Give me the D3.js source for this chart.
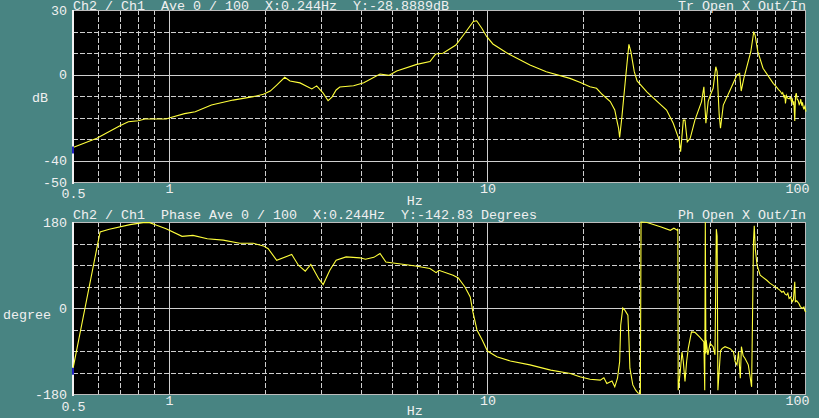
<!DOCTYPE html>
<html>
<head>
<meta charset="utf-8">
<script src="https://cdn.jsdelivr.net/npm/d3@7"></script>
<style>
  html, body { margin: 0; padding: 0; background: #488482; }
  svg { display: block; }
  text { font-family: "Liberation Mono", "DejaVu Sans Mono", monospace; font-size: 13.33px; fill: #f0f0f0; }
</style>
</head>
<body>
<svg id="chart" width="819" height="418"></svg>
<script>
// ---- data ----
// transfer function magnitude (Hz, dB)
const magFreq = [0.5, 0.594, 0.702, 0.746, 0.801, 0.841, 0.98, 1.02, 1.12, 1.21, 1.36, 1.59, 1.84, 1.98, 2.08,
  2.18, 2.31, 2.4, 2.58, 2.81, 2.91, 3.05, 3.16, 3.25, 3.35, 3.44, 3.8, 4.09, 4.6, 4.9, 5.19, 6.0, 6.6, 6.88,
  7.25, 7.96, 8.5, 9.03, 9.25, 9.6, 9.94, 10.4, 11.48, 13.6, 15.3, 18.15, 19.5, 20.98, 22.0, 22.9, 24.3, 25.1,
  25.6, 25.8, 26.0, 26.4, 27.2, 27.8, 28.2, 28.9, 29.5, 31.7, 36.5, 38.3, 40.0, 40.4, 41.2, 41.7, 42.4, 43.3,
  44.8, 47.0, 47.8, 48.5, 49.3, 50.1, 51.1, 52.1, 52.6, 53.4, 53.9, 55.0, 57.8, 60.7, 61.9, 62.6, 63.8, 67.1,
  68.5, 69.2, 70.6, 73.3, 78.9, 80.5, 82, 82.9, 84, 84.5, 85.3, 85.8, 86.2, 86.8, 87.5, 88.5, 89.3, 90, 90.6,
  91.1, 91.6, 92.2, 92.7, 93.2, 93.8, 94.5, 95.2, 95.7, 96.3, 97, 97.5, 98.1, 98.5, 99.2, 100];
const magDb = [-34, -29.7, -23.8, -22, -21.5, -20.7, -20.7, -19.9, -18.2, -17.3, -14.2, -11.9, -10.3, -9.2, -7.7,
  -4.9, -1.3, -3, -3.9, -6.7, -5.3, -8.7, -12.2, -10.5, -7.2, -5.8, -5.2, -3.8, 0.2, -0.4, 1.6, 4.7, 6.0, 9.5,
  9.9, 13.7, 19.3, 24.7, 25, 21.5, 17.7, 14.2, 10.1, 4.4, 1.3, -1.8, -3.6, -5.7, -6.4, -9.2, -12.6, -16.5,
  -22.7, -25, -29.3, -20.4, -0.2, 14.0, 10.6, 1.3, -3, -8.2, -16.5, -22.7, -30.5, -35.9, -21.2, -21.2, -31.3, -29.7,
  -21.2, -12.6, -5.7, -22.7, -12.6, -9.5, -6.4, 3.6, 1.3, -18.8, -25.0, -14.2, -7.2, -0.2, 0.5, -7.7, -1.8, 10.6,
  19.6, 18.4, 10.6, 2.9, -4.1, -5.5, -7, -7.7, -9, -8.5, -10.5, -9.5, -13.5, -9.8, -11, -11.3, -10.5, -12.5, -11.5,
  -14.2, -12.5, -21.6, -10, -8.7, -11.5, -12, -14, -13.4, -11.5, -14.5, -13, -15.5, -16, -14.8, -17.3];

// phase (Hz, degrees)
const phFreq = [0.5, 0.608, 0.65, 0.755, 0.83, 0.87, 0.915, 0.98, 1.1, 1.19, 1.32, 1.48, 1.67, 1.84, 1.98, 2.05,
  2.18, 2.43, 2.55, 2.68, 2.79, 2.95, 3.05, 3.2, 3.35, 3.6, 3.98, 4.14, 4.4, 4.6, 4.8, 5.2, 5.95, 6.6, 6.9, 7.04,
  7.8, 8.1, 8.5, 8.83, 9.0, 9.27, 9.63, 10.0, 10.7, 11.8, 13.6, 15.8, 18.2, 19.5, 21, 22.6, 23.2, 23.7, 24.6,
  25.1, 25.6, 26.0, 26.2, 26.6, 27.0, 27.6, 27.8, 28.0, 28.6, 29.2, 29.7, 30.2, 30.35, 31.7, 35.1, 37.5, 38.5,
  39.4, 39.6, 39.7, 40.3, 40.8, 41.2, 41.7, 42.2, 42.7, 43.7, 44.8, 46.4, 47.8, 48.1, 48.3, 48.5, 48.6, 49.2,
  50, 51.1, 51.8, 52.3, 52.6, 52.9, 53.9, 54.5, 55.7, 57.8, 59.2, 59.9, 60.7, 61.4, 62.2, 62.7, 63.5, 64.3,
  65.9, 67.5, 68.0, 68.4, 68.8, 69.3, 70.2, 71.8, 75.3, 77, 79.3, 81, 82.9, 84, 85, 86, 87, 87.7, 88.5, 89.5,
  90.5, 91.3, 92.2, 92.6, 93.5, 95, 96, 97.3, 98.5, 99.2, 100];
const phDeg = [-127, 159, 164.7, 174.5, 178.6, 178.6, 173, 166, 150, 152, 145, 142, 135.5, 135.5, 130, 124,
  100, 112, 89.5, 77, 91, 61.7, 49, 79, 100, 107, 105, 102, 106, 114, 96.4, 93, 88, 82.6, 74, 79,
  68.6, 63, 44, 23, -8, -46, -67, -90, -102, -111, -119, -130, -137, -144, -149, -151, -146, -158, -153,
  -165, -147, -112.5, -36, 0, -4.5, -15, -64, -126, -161, -172, -178, -179, 180, 179, 169.6, 162.6, 167,
  163, 166, -172, -133, -92, -112.5, -154, -112, -84.5, -50, -51, -61, -71, -172, 180, -95, -67, -98,
  -74, -81, -98, 165, 150, -172, -90, -85, -81, -85, -92, -112, -119, -92, -147, -81, -100, -105,
  -119, -165, -1, 138, 172, 124, 89.5, 68.6, 58, 52, 46.3, 42, 37, 33, 35, 29, 27, 31, 20, 23,
  13, 17, 55, 13, 15, 9.5, 3, -1, 2, -6, -8];

// tick labels
const xTickVals = [0.5, 1, 10, 100];
const magTickVals = [30, 0, -40, -50];
const phTickVals = [180, 0, -180];
const magGrid = [30, 20, 10, 0, -10, -20, -30, -40, -50];
const phGrid = [180, 135, 90, 45, 0, -45, -90, -135, -180];

const magTitle = "Ch2 / Ch1  Ave 0 / 100  X:0.244Hz  Y:-28.8889dB";
const magRight = "Tr Open X Out/In";
const phTitle = "Ch2 / Ch1  Phase Ave 0 / 100  X:0.244Hz  Y:-142.83 Degrees";
const phRight = "Ph Open X Out/In";

// ---- layout ----
const left = 73, right = 806;
const panels = [
  { top: 10, bottom: 182, domain: [-50, 30], grid: magGrid, solid: [0, -40], ticks: magTickVals,
    fx: magFreq, fy: magDb, title: magTitle, rtitle: magRight, titleY: 9.5, unit: "dB", unitX: 48, unitY: 97,
    unitAnchor: "end", halfDy: 5, hzY: 205 },
  { top: 222, bottom: 394, domain: [-180, 180], grid: phGrid, solid: [0], ticks: phTickVals,
    fx: phFreq, fy: phDeg, title: phTitle, rtitle: phRight, titleY: 219, unit: "degree", unitX: 3, unitY: 314,
    unitAnchor: "start", halfDy: 6, hzY: 414.5 }
];

const svg = d3.select("#chart");
const x = d3.scaleLog().domain([0.5, 100]).range([left, right]);
const vGrid = x.ticks().filter(d => d > 0.5 && d < 100);

panels.forEach(p => {
  const y = d3.scaleLinear().domain(p.domain).range([p.bottom, p.top]);
  const g = svg.append("g");

  g.append("rect")
    .attr("x", left).attr("y", p.top)
    .attr("width", right - left).attr("height", p.bottom - p.top)
    .attr("fill", "#000");

  // vertical grid
  g.selectAll(".vg").data(vGrid).join("line")
    .attr("x1", d => Math.round(x(d)) + 0.5).attr("x2", d => Math.round(x(d)) + 0.5)
    .attr("y1", p.top).attr("y2", p.bottom)
    .attr("stroke", "#cfcfcf").attr("stroke-width", 1)
    .attr("stroke-dasharray", d => (d === 1 || d === 10) ? null : "5,2");

  // horizontal grid
  g.selectAll(".hg").data(p.grid.filter(d => d !== p.domain[0] && d !== p.domain[1])).join("line")
    .attr("x1", left).attr("x2", right)
    .attr("y1", d => Math.round(y(d)) + 0.5).attr("y2", d => Math.round(y(d)) + 0.5)
    .attr("stroke", "#cfcfcf").attr("stroke-width", 1)
    .attr("stroke-dasharray", d => p.solid.includes(d) ? null : "5,2");

  // frame
  g.append("rect")
    .attr("x", left + 0.5).attr("y", p.top + 0.5)
    .attr("width", right - left - 1).attr("height", p.bottom - p.top)
    .attr("fill", "none").attr("stroke", "#bdbdbd");
  g.append("line")
    .attr("x1", left).attr("x2", left).attr("y1", p.top).attr("y2", p.bottom + 2)
    .attr("stroke", "#f2f2f2").attr("stroke-width", 2);

  // trace
  const pts = d3.zip(p.fx, p.fy);
  g.append("path")
    .datum(pts)
    .attr("d", d3.line().x(d => x(d[0])).y(d => y(d[1])))
    .attr("fill", "none")
    .attr("stroke", "#ffff3c")
    .attr("stroke-width", 1.1);

  // cursor marker (off-range, pinned to left edge)
  g.append("line")
    .attr("x1", left).attr("x2", left)
    .attr("y1", y(p.fy[0]) - 1).attr("y2", y(p.fy[0]) + 6)
    .attr("stroke", "#2020c0").attr("stroke-width", 2);

  // y axis
  const ya = g.append("g")
    .attr("transform", `translate(${left},0)`)
    .call(d3.axisLeft(y).tickValues(p.ticks).tickSize(0).tickPadding(6).tickFormat(d => String(d)));
  ya.select(".domain").remove();
  ya.selectAll("text").attr("fill", "#f0f0f0");

  // x axis
  const xa = g.append("g")
    .attr("transform", `translate(0,${p.bottom})`)
    .call(d3.axisBottom(x).tickValues(xTickVals).tickSize(0).tickPadding(2).tickFormat(d => String(d)));
  xa.select(".domain").remove();
  xa.selectAll("text").attr("fill", "#f0f0f0");
  xa.selectAll(".tick").filter(d => d === 0.5).select("text").attr("y", 2 + p.halfDy);
  xa.selectAll(".tick").filter(d => d === 100).select("text").attr("text-anchor", "end").attr("x", 3);

  // labels
  g.append("text").attr("x", left).attr("y", p.titleY).text(p.title).style("white-space", "pre");
  g.append("text").attr("x", right).attr("y", p.titleY).attr("text-anchor", "end").text(p.rtitle);
  g.append("text").attr("x", p.unitX).attr("y", p.unitY).attr("dy", "0.35em")
    .attr("text-anchor", p.unitAnchor).text(p.unit);
  g.append("text").attr("x", x(Math.sqrt(5 * 7))).attr("y", p.hzY)
    .attr("text-anchor", "middle").text("Hz");
});
</script>
</body>
</html>
